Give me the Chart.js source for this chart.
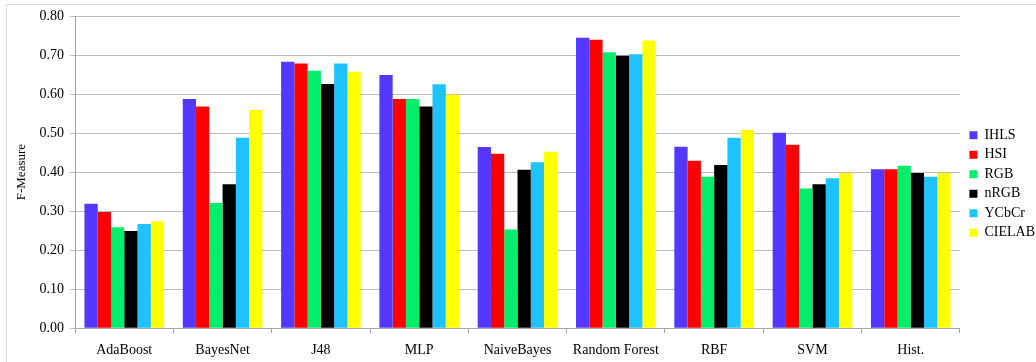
<!DOCTYPE html>
<html>
<head>
<meta charset="utf-8">
<script src="https://cdn.jsdelivr.net/npm/chart.js@4/dist/chart.umd.min.js"></script>
<style>
  html, body { margin: 0; padding: 0; background: #fff; }
  #frame { position: absolute; left: 6px; top: 4px; width: 1040px; height: 357px; border: 1px solid #d9d9d9; }
  #wrap { position: absolute; left: 0; top: 0; }
</style>
</head>
<body>
<div id="frame"></div>
<div id="wrap"><canvas id="fmChart" width="1036" height="362"></canvas></div>
<script>
// Classifiers along the x axis
const classifiers = ['AdaBoost', 'BayesNet', 'J48', 'MLP', 'NaiveBayes', 'Random Forest', 'RBF', 'SVM', 'Hist.'];

// F-Measure per colour space
const ihls   = [0.319, 0.587, 0.683, 0.649, 0.464, 0.744, 0.465, 0.501, 0.407];
const hsi    = [0.298, 0.568, 0.678, 0.587, 0.447, 0.739, 0.429, 0.470, 0.407];
const rgb    = [0.259, 0.321, 0.660, 0.587, 0.253, 0.707, 0.388, 0.358, 0.416];
const nrgb   = [0.249, 0.369, 0.626, 0.568, 0.406, 0.698, 0.418, 0.369, 0.398];
const ycbcr  = [0.267, 0.488, 0.678, 0.625, 0.425, 0.702, 0.488, 0.384, 0.388];
const cielab = [0.274, 0.559, 0.657, 0.598, 0.452, 0.737, 0.508, 0.398, 0.398];

const seriesNames = ['IHLS', 'HSI', 'RGB', 'nRGB', 'YCbCr', 'CIELAB'];
const seriesValues = [ihls, hsi, rgb, nrgb, ycbcr, cielab];
const seriesColors = ['#5438ff', '#ff0000', '#00ee6a', '#000000', '#1ec2ff', '#ffff00'];

const serif = "'Liberation Serif', 'Times New Roman', serif";

const datasets = seriesNames.map((name, i) => ({
    label: name,
    data: seriesValues[i],
    backgroundColor: seriesColors[i],
    borderWidth: 0,
    barPercentage: 1.0,
    categoryPercentage: 0.81
}));

// nudge the legend box a little, the figure has it higher and further right
const legendNudge = {
    id: 'legendNudge',
    afterLayout(chart) {
        const lg = chart.legend;
        lg.top -= 8; lg.bottom -= 8;
        lg.left += 4; lg.right += 4;
    }
};

const ctx = document.getElementById('fmChart').getContext('2d');
const fmChart = new Chart(ctx, {
    type: 'bar',
    data: { labels: classifiers, datasets: datasets },
    plugins: [legendNudge],
    options: {
        responsive: false,
        devicePixelRatio: 1,
        animation: false,
        // negative right/bottom padding pushes legend and x labels to match the figure
        layout: { padding: { left: 10, right: -5, top: 16, bottom: -6 } },
        plugins: {
            tooltip: { enabled: false },
            legend: {
                position: 'right',
                labels: {
                    boxWidth: 8,
                    boxHeight: 8,
                    padding: 5.5,
                    color: '#000',
                    font: { family: serif, size: 14 }
                }
            }
        },
        scales: {
            x: {
                grid: {
                    display: true,
                    drawOnChartArea: false,
                    drawTicks: true,
                    tickLength: 5,
                    color: '#a6a6a6'
                },
                border: { display: true, color: '#a6a6a6' },
                ticks: {
                    color: '#000',
                    padding: 9,
                    maxRotation: 0,
                    font: { family: serif, size: 14 }
                }
            },
            y: {
                min: 0,
                max: 0.8,
                grid: {
                    color: '#bcbcbc',
                    tickLength: 5
                },
                border: { display: true, color: '#a6a6a6' },
                ticks: {
                    stepSize: 0.1,
                    color: '#000',
                    padding: 6,
                    font: { family: serif, size: 14 },
                    callback: value => value.toFixed(2)
                },
                title: {
                    display: true,
                    text: 'F-Measure',
                    color: '#000',
                    font: { family: serif, size: 13 }
                }
            }
        }
    }
});
</script>
</body>
</html>
